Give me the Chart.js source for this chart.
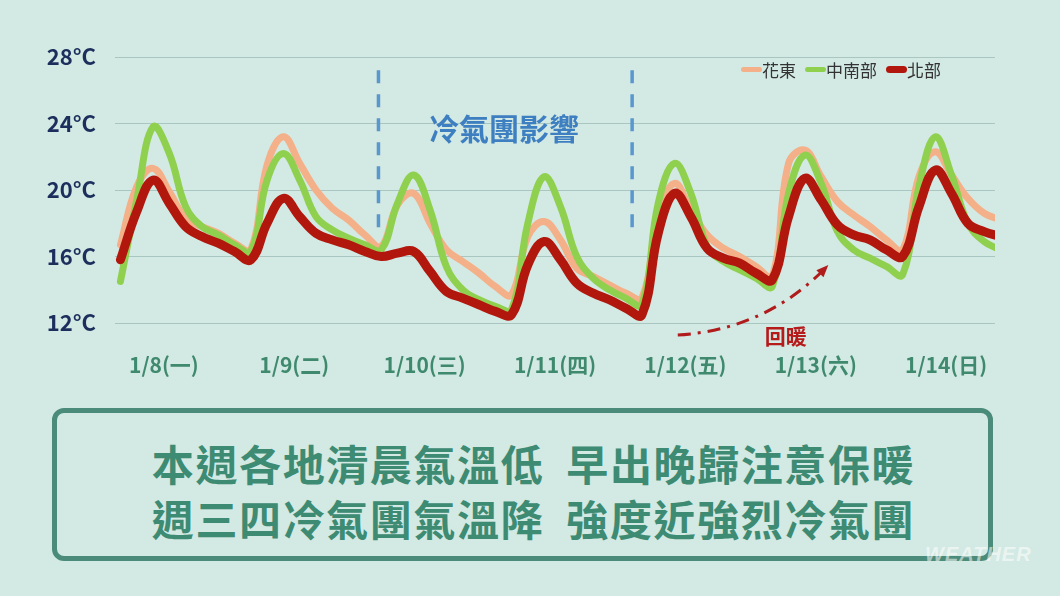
<!DOCTYPE html>
<html>
<head>
<meta charset="utf-8">
<script src="https://cdn.jsdelivr.net/npm/chart.js@4.4.1/dist/chart.umd.min.js"></script>
<style>
  body { margin: 0; width: 1060px; height: 596px; overflow: hidden; position: relative;
         background: #d3e9e3; font-family: "Noto Sans CJK TC", sans-serif; }
  #wrap { position: absolute; left: 0; top: 0; width: 1060px; height: 400px; }
  #legend { position: absolute; left: 741px; top: 57px; display: flex; align-items: center;
            font-size: 17px; color: #333; }
  #legend .key { display: inline-block; width: 21px; border-radius: 4px; }
  #legend .item { display: flex; align-items: center; margin-right: 9px; }
  #note { position: absolute; left: 52px; top: 408px; width: 941px; height: 153px; box-sizing: border-box;
          border: 5px solid #4a8b79; border-radius: 12px; text-align: center; color: #3e8b73;
          font-weight: 700; font-size: 42px; line-height: 55px; letter-spacing: 1.6px; word-spacing: 11px;
          padding-top: 22px; padding-left: 22px; }
  #mark { position: absolute; left: 925px; top: 543px; font-family: "Liberation Sans", sans-serif;
          font-style: italic; font-weight: 700; font-size: 20px; color: rgba(255,255,255,0.55); letter-spacing: 1px; }
</style>
</head>
<body>
<div id="wrap"><canvas id="myChart" width="1060" height="400"></canvas></div>
<div id="legend"></div>
<div id="note">
  <div>本週各地清晨氣溫低 早出晚歸注意保暖</div>
  <div>週三四冷氣團氣溫降 強度近強烈冷氣團</div>
</div>
<div id="mark">WEATHER</div>
<script>
// hours counted from 1/8 00:00, one reading every 3 hours
const hours = Array.from({ length: 55 }, (_, i) => 6 + i * 3);

const dayTicks = [14, 38, 62, 86, 110, 134, 158];
const dayLabels = ["1/8(一)", "1/9(二)", "1/10(三)", "1/11(四)", "1/12(五)", "1/13(六)", "1/14(日)"];

const seriesNames = ["花東", "中南部", "北部"];

// 花東
const hualien = [
  16.7, 20.2, 21.3, 19.9, 18.3, 17.8, 17.4, 16.8,
  16.4, 21.5, 23.2, 21.6, 20.0, 18.9, 18.2, 17.3,
  16.6, 19.1, 19.8, 18.0, 16.4, 15.7, 15.0, 14.2,
  13.7, 17.2, 18.1, 17.0, 15.3, 14.8, 14.3, 13.8,
  13.5, 18.4, 20.4, 18.8, 17.3, 16.5, 16.0, 15.4,
  14.8, 21.6, 22.4, 20.8, 19.3, 18.5, 17.8, 17.0,
  16.4, 20.8, 22.3, 20.9, 19.5, 18.6, 18.2
];
// 中南部
const central = [
  14.5, 19.4, 23.8, 22.2, 19.0, 17.8, 17.3, 16.7,
  16.3, 20.6, 22.2, 20.6, 18.4, 17.6, 17.1, 16.7,
  16.4, 19.2, 20.9, 18.8, 15.4, 14.0, 13.4, 13.0,
  12.8, 18.0, 20.8, 19.0, 16.0, 14.7, 14.0, 13.5,
  13.1, 19.2, 21.6, 19.8, 16.6, 15.7, 15.2, 14.7,
  14.2, 19.8, 22.1, 20.4, 17.5, 16.4, 15.9, 15.4,
  14.9, 20.2, 23.2, 20.9, 18.0, 16.9, 16.4
];
// 北部
const north = [
  15.8, 18.7, 20.6, 19.2, 17.8, 17.2, 16.8, 16.3,
  15.8, 18.0, 19.5, 18.4, 17.4, 17.0, 16.7, 16.3,
  16.0, 16.2, 16.3, 15.1, 13.9, 13.5, 13.1, 12.7,
  12.5, 15.5, 16.9, 15.8, 14.4, 13.8, 13.4, 12.9,
  12.5, 17.4, 19.8, 18.4, 16.5, 15.9, 15.6, 15.0,
  14.6, 18.4, 20.7, 19.4, 17.9, 17.3, 17.0, 16.4,
  16.0, 19.0, 21.2, 19.8, 18.0, 17.5, 17.2
];

const colors = ["#f4b089", "#8fd04f", "#b2170e"];
const widths = [7, 7, 9];

// cold air mass period markers (hours)
const coldLines = [53.5, 100.2];

const annotate = {
  id: "annotate",
  afterDatasetsDraw(chart) {
    const { ctx, scales: { x, y } } = chart;
    ctx.save();
    ctx.strokeStyle = "#5b97cf";
    ctx.lineWidth = 3.5;
    ctx.setLineDash([13, 11]);
    coldLines.forEach((h) => {
      ctx.beginPath();
      ctx.moveTo(x.getPixelForValue(h), y.getPixelForValue(27.2));
      ctx.lineTo(x.getPixelForValue(h), y.getPixelForValue(17.6));
      ctx.stroke();
    });

    ctx.setLineDash([]);
    ctx.fillStyle = "#3d7fc1";
    ctx.font = "bold 30px 'Noto Sans CJK TC'";
    ctx.textAlign = "center";
    ctx.textBaseline = "middle";
    ctx.fillText("冷氣團影響", x.getPixelForValue(76.6), y.getPixelForValue(23.7));

    // warming arrow
    const sx = x.getPixelForValue(108.6), sy = y.getPixelForValue(11.28);
    const cx = x.getPixelForValue(124.6), cy = y.getPixelForValue(11.58);
    const ex = x.getPixelForValue(135.8), ey = y.getPixelForValue(15.31);
    ctx.strokeStyle = "#b01c1c";
    ctx.lineWidth = 3;
    ctx.setLineDash([13, 7, 3, 7]);
    ctx.beginPath();
    ctx.moveTo(sx, sy);
    ctx.quadraticCurveTo(cx, cy, ex, ey);
    ctx.stroke();
    ctx.setLineDash([]);
    const ang = Math.atan2(ey - cy, ex - cx);
    ctx.fillStyle = "#b01c1c";
    ctx.beginPath();
    ctx.moveTo(ex + 4 * Math.cos(ang), ey + 4 * Math.sin(ang));
    ctx.lineTo(ex - 8 * Math.cos(ang) - 5 * Math.sin(ang), ey - 8 * Math.sin(ang) + 5 * Math.cos(ang));
    ctx.lineTo(ex - 8 * Math.cos(ang) + 5 * Math.sin(ang), ey - 8 * Math.sin(ang) - 5 * Math.cos(ang));
    ctx.closePath();
    ctx.fill();

    ctx.fillStyle = "#b51b1b";
    ctx.font = "bold 21px 'Noto Sans CJK TC'";
    ctx.fillText("回暖", x.getPixelForValue(128.5), y.getPixelForValue(11.2));
    ctx.restore();
  },
};

const myChart = document.getElementById("myChart").getContext("2d");
const allSeries = [hualien, central, north];

new Chart(myChart, {
  type: "line",
  data: {
    datasets: allSeries.map((vals, k) => ({
      label: seriesNames[k],
      data: hours.map((h, i) => ({ x: h, y: vals[i] })),
      borderColor: colors[k],
      borderWidth: widths[k],
      order: 3 - k,
    })),
  },
  options: {
    responsive: false,
    animation: false,
    layout: { padding: { top: 57, right: 65, left: 0, bottom: 0 } },
    plugins: { legend: { display: false }, tooltip: { enabled: false } },
    elements: {
      point: { radius: 0 },
      line: { tension: 0.4, borderCapStyle: "round", borderJoinStyle: "round", fill: false },
    },
    scales: {
      x: {
        type: "linear",
        min: 5,
        max: 167,
        grid: { display: false, drawTicks: false },
        border: { display: false },
        afterBuildTicks: (s) => {
          s.ticks = dayTicks.map((v) => ({ value: v }));
        },
        afterFit: (s) => {
          s.height = 77;
        },
        ticks: {
          autoSkip: false,
          maxRotation: 0,
          padding: 29,
          color: "#3f8a6e",
          font: { family: "'Noto Sans CJK TC'", size: 21, weight: "bold" },
          callback: (v, i) => dayLabels[i],
        },
      },
      y: {
        min: 12,
        max: 28,
        afterFit: (s) => {
          s.width = 115;
        },
        grid: { color: "rgba(120,155,150,0.45)", lineWidth: 1, drawTicks: false },
        border: { display: false },
        ticks: {
          stepSize: 4,
          padding: 19,
          color: "#1c2e5c",
          font: { family: "'Noto Sans CJK TC'", size: 22, weight: "bold" },
          callback: (v) => v + "°C",
        },
      },
    },
  },
  plugins: [annotate],
});

// legend
const legend = document.getElementById("legend");
seriesNames.forEach((name, k) => {
  const item = document.createElement("span");
  item.className = "item";
  item.innerHTML = `<span class="key" style="background:${colors[k]};height:${k === 2 ? 7 : 5}px"></span><span>${name}</span>`;
  legend.appendChild(item);
});
</script>
</body>
</html>
